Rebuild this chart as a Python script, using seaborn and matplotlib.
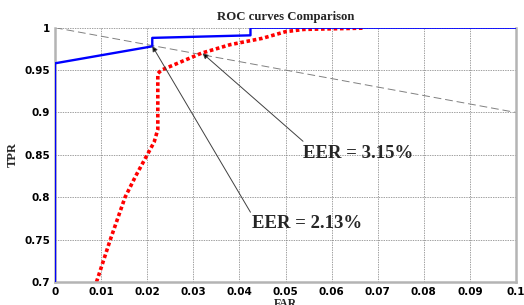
import matplotlib
matplotlib.use('Agg')
import matplotlib.pyplot as plt
import seaborn as sns

# blue ROC curve (EER = 2.13%)
blue_far = [0.0, 0.0, 0.0211, 0.0211, 0.0424, 0.0424, 0.1]
blue_tpr = [0.70, 0.958, 0.978, 0.988, 0.991, 1.0, 1.0]

# red dotted ROC curve (EER = 3.15%)
red_far = [0.009, 0.012, 0.0152, 0.0175, 0.020, 0.0215, 0.0223, 0.0223, 0.0231,
           0.0318, 0.038, 0.045, 0.050, 0.054, 0.067]
red_tpr = [0.70, 0.75, 0.80, 0.825, 0.85, 0.865, 0.88, 0.946, 0.950,
           0.970, 0.980, 0.9875, 0.9953, 0.998, 0.9995]

# EER line: TPR = 1 - FAR
eer_far = [0.0, 0.1]
eer_tpr = [1.0, 0.9]

x_ticks = [0, 0.01, 0.02, 0.03, 0.04, 0.05, 0.06, 0.07, 0.08, 0.09, 0.1]
x_labels = ['0', '0.01', '0.02', '0.03', '0.04', '0.05', '0.06', '0.07', '0.08', '0.09', '0.1']
y_ticks = [0.7, 0.75, 0.8, 0.85, 0.9, 0.95, 1.0]
y_labels = ['0.7', '0.75', '0.8', '0.85', '0.9', '0.95', '1']

# annotation tips (points on the curves) and text anchors
eer_texts = ['EER = 3.15%', 'EER = 2.13%']
eer_tips = [(0.0320, 0.9698), (0.0211, 0.9784)]
eer_tails = [(0.0538, 0.866), (0.0424, 0.7823)]
eer_text_pos = [(0.0538, 0.852), (0.0427, 0.7693)]

sns.set_style('white')
serif = ['Liberation Serif', 'DejaVu Serif']

fig = plt.figure(figsize=(5.24, 3.05), dpi=100)
ax = fig.add_axes([55/524, 1 - 282/305, 461/524, 254.3/305])

sns.lineplot(x=eer_far, y=eer_tpr, ax=ax, sort=False, estimator=None,
             color='#808080', lw=0.7, linestyle=(0, (8, 4)))
sns.lineplot(x=red_far, y=red_tpr, ax=ax, sort=False, estimator=None,
             color='#ff0000', lw=2.6, linestyle=(0, (1, 0.75)), dash_capstyle='butt')
sns.lineplot(x=blue_far, y=blue_tpr, ax=ax, sort=False, estimator=None,
             color='#0000ff', lw=1.7, zorder=5)

for tip, tail in zip(eer_tips, eer_tails):
    ax.annotate('', xy=tip, xytext=tail,
                arrowprops=dict(arrowstyle='-|>', color='#707070', lw=0.7,
                                mutation_scale=8, fc='black', ec='#404040',
                                shrinkA=0, shrinkB=0), zorder=6)
for txt, pos in zip(eer_texts, eer_text_pos):
    ax.text(pos[0], pos[1], txt, family=serif, fontweight='bold', fontsize=13.5,
            ha='left', va='center', zorder=6)

ax.set_xlim(0, 0.1)
ax.set_ylim(0.7, 1.0)
ax.set_xticks(x_ticks)
ax.set_xticklabels(x_labels)
ax.set_yticks(y_ticks)
ax.set_yticklabels(y_labels)
for lab in ax.get_xticklabels() + ax.get_yticklabels():
    lab.set_family(['DejaVu Sans'])
    lab.set_fontweight('bold')
    lab.set_fontsize(7.5)
ax.tick_params(direction='in', length=3, width=0.6, pad=3.5, colors='#505050',
               labelcolor='black')

ax.grid(True, color='#7a7a7a', lw=0.5, linestyle=(0, (2, 1.5)))
for side in ['left', 'right', 'bottom']:
    ax.spines[side].set_color('#b4b4b4')
    ax.spines[side].set_linewidth(1.8)
ax.spines['top'].set_visible(False)

ax.set_title('ROC curves Comparison', family=serif, fontweight='bold',
             fontsize=9.2, pad=5.5)
ax.set_xlabel('FAR', family=serif, fontweight='bold', fontsize=8.5)
ax.set_ylabel('TPR', family=serif, fontweight='bold', fontsize=9)
ax.xaxis.set_label_coords(0.5, -0.062)
ax.yaxis.set_label_coords(-0.078, 0.5)

fig.savefig('out.png', dpi=100)
